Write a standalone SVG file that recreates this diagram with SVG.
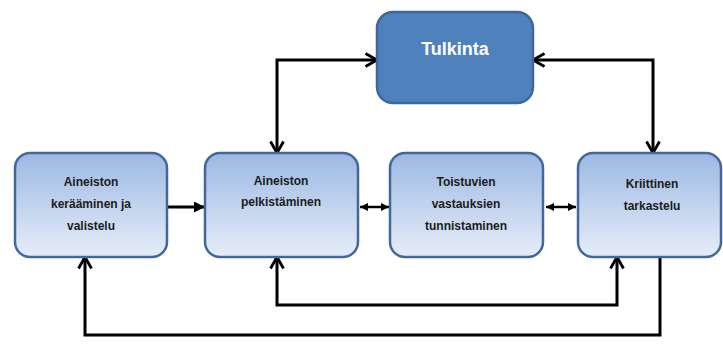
<svg xmlns="http://www.w3.org/2000/svg" width="723" height="349" viewBox="0 0 723 349">
  <style>
    .box { fill: url(#boxFill); stroke: #44679b; stroke-width: 2.5; }
    .head { fill: #4f81bd; stroke: #3d689c; stroke-width: 2.5; }
    .lbl { font-family: "Liberation Sans", Arial, sans-serif; font-weight: bold; font-size: 12px; fill: #1c1c1c; text-anchor: middle; }
    .title { font-family: "Liberation Sans", Arial, sans-serif; font-weight: bold; font-size: 18px; fill: #ffffff; text-anchor: middle; }
    .wire { fill: none; stroke: #000000; stroke-width: 3; stroke-linejoin: miter; }
    .thin { fill: none; stroke: #000000; stroke-width: 2.5; }
  </style>
  <defs>
    <linearGradient id="boxFill" x1="0" y1="0" x2="0" y2="1">
      <stop offset="0" stop-color="#9cb8e3"/>
      <stop offset="1" stop-color="#e6edf8"/>
    </linearGradient>
    <!-- open chevron head -->
    <marker id="chev" viewBox="0 0 16 16" refX="14" refY="8" markerWidth="16" markerHeight="16" markerUnits="userSpaceOnUse" orient="auto-start-reverse">
      <path d="M2.5,1.5 L14,8 L2.5,14.5" fill="none" stroke="#000" stroke-width="2.8"/>
    </marker>
    <!-- solid triangle head -->
    <marker id="tri" viewBox="0 0 10 10" refX="10" refY="5" markerWidth="11" markerHeight="11" markerUnits="userSpaceOnUse" orient="auto-start-reverse">
      <path d="M0,0 L10,5 L0,10 Z" fill="#000"/>
    </marker>
    <marker id="triS" viewBox="0 0 10 10" refX="10" refY="5" markerWidth="8" markerHeight="8" markerUnits="userSpaceOnUse" orient="auto-start-reverse">
      <path d="M0,0 L10,5 L0,10 Z" fill="#000"/>
    </marker>
  </defs>

  <rect width="723" height="349" fill="#ffffff"/>

  <g id="connectors">
    <path class="wire" d="M277,153 L277,60 L377,60" marker-start="url(#chev)" marker-end="url(#chev)"/>
    <path class="wire" d="M533,60 L653,60 L653,153" marker-start="url(#chev)" marker-end="url(#chev)"/>
    <path class="wire" d="M167,207 L205,207" marker-end="url(#tri)"/>
    <path class="thin" d="M360,207 L389,207" marker-start="url(#triS)" marker-end="url(#triS)"/>
    <path class="thin" d="M546,207 L576,207" marker-start="url(#triS)" marker-end="url(#triS)"/>
    <path class="wire" d="M277,257 L277,305 L617,305 L617,257" marker-start="url(#chev)" marker-end="url(#chev)"/>
    <path class="wire" d="M660,257 L660,335 L85,335 L85,257" marker-end="url(#chev)"/>
  </g>

  <g id="tulkinta">
    <rect class="head" x="377" y="12" width="156" height="91" rx="16"/>
    <text class="title" x="455" y="55">Tulkinta</text>
  </g>

  <g id="keraaminen">
    <rect class="box" x="15" y="153" width="152" height="104" rx="15"/>
    <text class="lbl" x="91" y="186">Aineiston</text>
    <text class="lbl" x="91" y="208">kerääminen ja</text>
    <text class="lbl" x="91" y="230">valistelu</text>
  </g>

  <g id="pelkistaminen">
    <rect class="box" x="205" y="153" width="153" height="104" rx="15"/>
    <text class="lbl" x="281" y="185">Aineiston</text>
    <text class="lbl" x="281" y="206">pelkistäminen</text>
  </g>

  <g id="tunnistaminen">
    <rect class="box" x="390" y="153" width="153" height="104" rx="15"/>
    <text class="lbl" x="466" y="186">Toistuvien</text>
    <text class="lbl" x="466" y="208">vastauksien</text>
    <text class="lbl" x="466" y="230">tunnistaminen</text>
  </g>

  <g id="tarkastelu">
    <rect class="box" x="578" y="153" width="143" height="104" rx="15"/>
    <text class="lbl" x="652" y="188">Kriittinen</text>
    <text class="lbl" x="652" y="210">tarkastelu</text>
  </g>
</svg>
